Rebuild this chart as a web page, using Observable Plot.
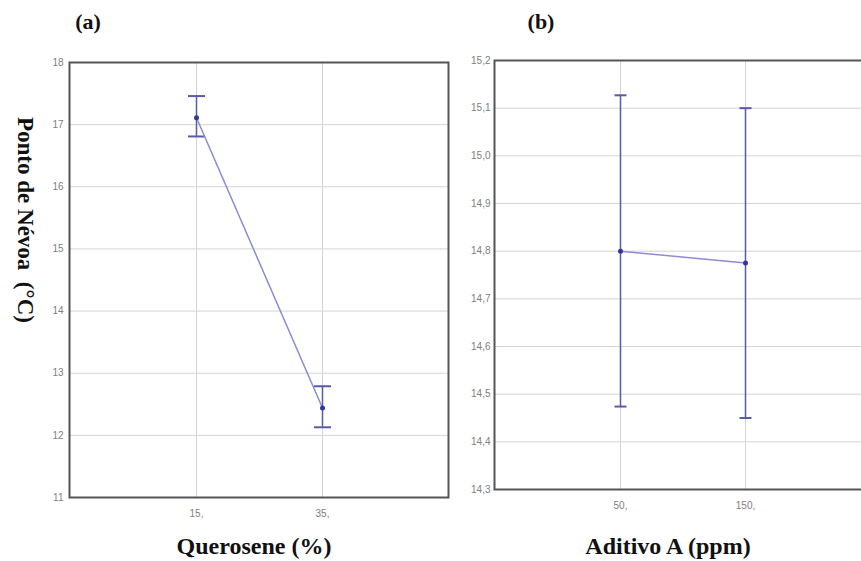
<!DOCTYPE html>
<html>
<head>
<meta charset="utf-8">
<script src="https://cdn.jsdelivr.net/npm/d3@7"></script>
<script src="https://cdn.jsdelivr.net/npm/@observablehq/plot@0.6"></script>
<style>
  html, body { margin: 0; padding: 0; background: #fff; overflow: hidden; }
  #wrap { position: relative; width: 861px; height: 561px; overflow: hidden; background: #fff; }
  .panel { position: absolute; top: 0; }
  .panel svg { max-width: none !important; display: block; }
  .lbl { position: absolute; font-family: "Liberation Serif", "Times New Roman", serif; font-weight: bold; color: #111; white-space: nowrap; }
</style>
</head>
<body>
<div id="wrap">
  <div class="panel" id="pa" style="left:0px; width:460px;"></div>
  <div class="panel" id="pb" style="left:430px; width:451px;"></div>
  <div class="lbl" style="left:88px; top:22px; font-size:22px; transform: translate(-50%,-50%);">(a)</div>
  <div class="lbl" style="left:541px; top:22px; font-size:22px; transform: translate(-50%,-50%);">(b)</div>
  <div class="lbl" style="left:25px; top:220px; font-size:23px; transform: translate(-50%,-50%) rotate(90deg);">Ponto de Névoa&nbsp; (°C)</div>
  <div class="lbl" style="left:254px; top:546px; font-size:24px; transform: translate(-50%,-50%);">Querosene (%)</div>
  <div class="lbl" style="left:668px; top:546px; font-size:24px; transform: translate(-50%,-50%);">Aditivo A (ppm)</div>
</div>
<script>
// Panel (a): Querosene (%)
const querosene = ["15", "35"];
const meanA = [17.11, 12.44];
const lowA = [16.81, 12.13];
const highA = [17.46, 12.79];
const yTicksA = [11, 12, 13, 14, 15, 16, 17, 18];

// Panel (b): Aditivo A (ppm)
const aditivo = ["50", "150"];
const meanB = [14.80, 14.775];
const lowB = [14.474, 14.45];
const highB = [15.127, 15.10];
const yTicksB = [14.3, 14.4, 14.5, 14.6, 14.7, 14.8, 14.9, 15.0, 15.1, 15.2];

const capSymbol = {
  draw(ctx, size) {
    const w = Math.sqrt(size / Math.PI);
    ctx.moveTo(-w, 0);
    ctx.lineTo(w, 0);
  }
};

const lineColor = "#8b8bd6";
const barColor = "#5a5aaa";
const dotColor = "#34349a";

function panel({cats, mean, low, high, yTicks, yDomain, fmtY, width, ml, mr, mt, mb, padY, capR}) {
  const rows = cats.map((c, i) => ({c, m: mean[i], lo: low[i], hi: high[i]}));
  return Plot.plot({
    width, height: 561,
    marginLeft: ml, marginRight: mr, marginTop: mt, marginBottom: mb,
    style: {fontFamily: "'Liberation Sans Narrow', 'Arial Narrow', sans-serif", fontSize: "10px", color: "#808080", background: "transparent", maxWidth: "none"},
    x: {type: "point", domain: cats, padding: 1, label: null},
    y: {domain: yDomain, label: null},
    marks: [
      Plot.gridY(yTicks, {stroke: "#d4d4d4", strokeOpacity: 1}),
      Plot.gridX(cats, {stroke: "#d4d4d4", strokeOpacity: 1}),
      Plot.axisY(yTicks, {tickSize: 0, tickPadding: padY, tickFormat: fmtY, label: null}),
      Plot.axisX(cats, {tickSize: 0, tickPadding: 12, tickFormat: d => d + ",", label: null}),
      Plot.ruleX(rows, {x: "c", y1: "lo", y2: "hi", stroke: barColor, strokeWidth: 1.5}),
      Plot.dot(rows, {x: "c", y: "hi", symbol: capSymbol, r: capR, stroke: barColor, strokeWidth: 2, fill: "none"}),
      Plot.dot(rows, {x: "c", y: "lo", symbol: capSymbol, r: capR, stroke: barColor, strokeWidth: 2, fill: "none"}),
      Plot.line(rows, {x: "c", y: "m", stroke: lineColor, strokeWidth: 1.5}),
      Plot.dot(rows, {x: "c", y: "m", r: 2.5, fill: dotColor, stroke: "none"}),
      Plot.frame({stroke: "#555", strokeWidth: 2})
    ]
  });
}

document.getElementById("pa").appendChild(panel({
  cats: querosene, mean: meanA, low: lowA, high: highA,
  yTicks: yTicksA, yDomain: [11, 18], fmtY: d => String(d),
  width: 460, ml: 69, mr: 12, mt: 62, mb: 64, padY: 6, capR: 8.5
}));

document.getElementById("pb").appendChild(panel({
  cats: aditivo, mean: meanB, low: lowB, high: highB,
  yTicks: yTicksB, yDomain: [14.3, 15.2], fmtY: d => d3.format(".1f")(d).replace(".", ","),
  width: 451, ml: 64, mr: 10, mt: 60, mb: 72, padY: 4, capR: 6
}));
</script>
</body>
</html>
